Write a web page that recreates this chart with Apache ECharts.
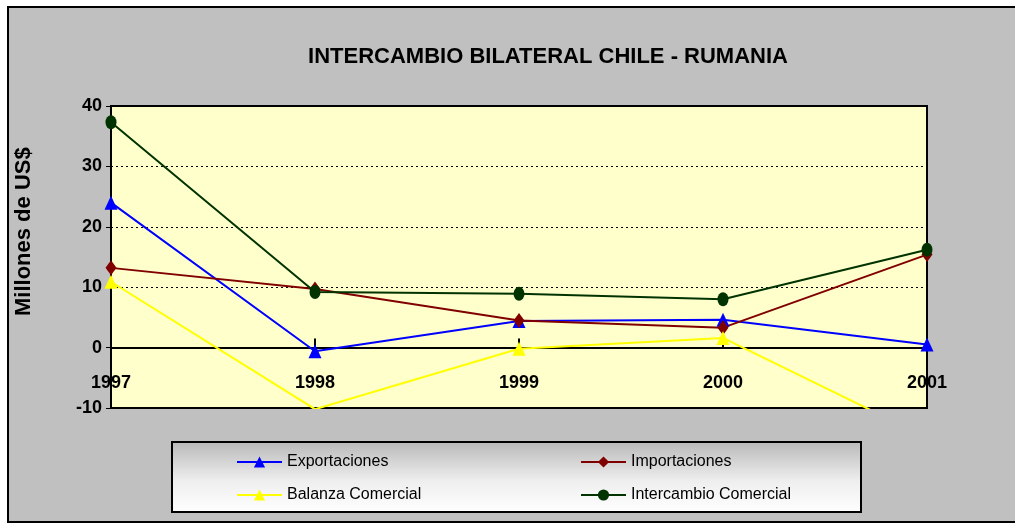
<!DOCTYPE html>
<html>
<head>
<meta charset="utf-8">
<script src="https://cdn.jsdelivr.net/npm/echarts@6/dist/echarts.min.js"></script>
<style>
html,body{margin:0;padding:0;background:#fff;}
#chart{width:1015px;height:524px;}
</style>
</head>
<body>
<div id="chart"></div>
<script>
var categories = ['1997', '1998', '1999', '2000', '2001'];
var exportaciones = [24.0, -0.6, 4.4, 4.6, 0.5];
var importaciones = [13.2, 9.7, 4.5, 3.3, 15.4];
var balanza = [10.9, -10.2, -0.2, 1.6, -14.9];
var intercambio = [37.3, 9.2, 8.9, 8.0, 16.2];
var seriesNames = ['Exportaciones', 'Importaciones', 'Balanza Comercial', 'Intercambio Comercial'];
var yTicks = { min: -10, max: 40, interval: 10 };
var titleText = 'INTERCAMBIO BILATERAL CHILE - RUMANIA';
var yAxisTitle = 'Millones de US$';

var FONT = '"Liberation Sans", Arial, sans-serif';
var chart = echarts.init(document.getElementById('chart'));

function legendAt(name, left, top) {
  return {
    data: [name], left: left, top: top, padding: 0,
    itemWidth: 45, itemHeight: 14, itemGap: 0,
    textStyle: { fontFamily: FONT, fontSize: 16, color: '#000' },
    selectedMode: false
  };
}

var option = {
  backgroundColor: '#ffffff',
  animation: false,
  graphic: [
    { type: 'rect', z: -10, shape: { x: 8, y: 7, width: 1020, height: 515 },
      style: { fill: '#c0c0c0', stroke: '#000', lineWidth: 2 } },
    { type: 'rect', z: 1, shape: { x: 172, y: 442, width: 689, height: 70 },
      style: { fill: new echarts.graphic.LinearGradient(0, 0, 0, 1, [
        { offset: 0, color: '#b8b8b8' }, { offset: 0.55, color: '#eeeeee' }, { offset: 1, color: '#ffffff' }]),
        stroke: '#000', lineWidth: 2 } },
    { type: 'text', z: 5, x: 548, y: 57,
      style: { text: titleText, textAlign: 'center', textVerticalAlign: 'middle',
        font: 'bold 22px ' + FONT, fill: '#000' } },
    { type: 'text', z: 5, x: 24, y: 316, rotation: Math.PI / 2,
      style: { text: yAxisTitle, textAlign: 'left', textVerticalAlign: 'middle',
        font: 'bold 22px ' + FONT, fill: '#000' } }
  ],
  grid: {
    left: 111, right: 88, top: 106, bottom: 116,
    show: true, backgroundColor: '#ffffcc', borderColor: '#000', borderWidth: 2
  },
  legend: [
    legendAt(seriesNames[0], 236, 454),
    legendAt(seriesNames[1], 580, 454),
    legendAt(seriesNames[2], 236, 487),
    legendAt(seriesNames[3], 580, 487)
  ],
  xAxis: {
    type: 'category', data: categories, boundaryGap: false,
    axisLine: { onZero: true, lineStyle: { color: '#000', width: 2 } },
    axisTick: { show: true, inside: true, length: 9, lineStyle: { color: '#000', width: 2 } },
    axisLabel: { margin: -34, color: '#000', fontFamily: FONT, fontWeight: 'bold', fontSize: 18 },
    splitLine: { show: false }
  },
  yAxis: {
    type: 'value', min: yTicks.min, max: yTicks.max, interval: yTicks.interval,
    axisLine: { show: true, lineStyle: { color: '#000', width: 2 } },
    axisTick: { show: true, length: 5, lineStyle: { color: '#000', width: 1 } },
    axisLabel: { margin: 9, color: '#000', fontFamily: FONT, fontWeight: 'bold', fontSize: 18 },
    splitLine: { show: true, lineStyle: { color: '#000', width: 1, type: [2, 3] } }
  },
  series: [
    { name: seriesNames[0], type: 'line', data: exportaciones, symbol: 'triangle', symbolSize: [13, 14],
      color: '#0000ff', lineStyle: { width: 2, color: '#0000ff' }, itemStyle: { color: '#0000ff' }, z: 3 },
    { name: seriesNames[1], type: 'line', data: importaciones, symbol: 'diamond', symbolSize: [11, 15],
      color: '#800000', lineStyle: { width: 2, color: '#800000' }, itemStyle: { color: '#800000' }, z: 3 },
    { name: seriesNames[2], type: 'line', data: balanza, symbol: 'triangle', symbolSize: [13, 14],
      color: '#ffff00', lineStyle: { width: 2, color: '#ffff00' }, itemStyle: { color: '#ffff00' }, z: 3 },
    { name: seriesNames[3], type: 'line', data: intercambio, symbol: 'circle', symbolSize: [11, 14],
      color: '#003300', lineStyle: { width: 2, color: '#003300' }, itemStyle: { color: '#003300' }, z: 4 }
  ]
};
chart.setOption(option);
</script>
</body>
</html>
